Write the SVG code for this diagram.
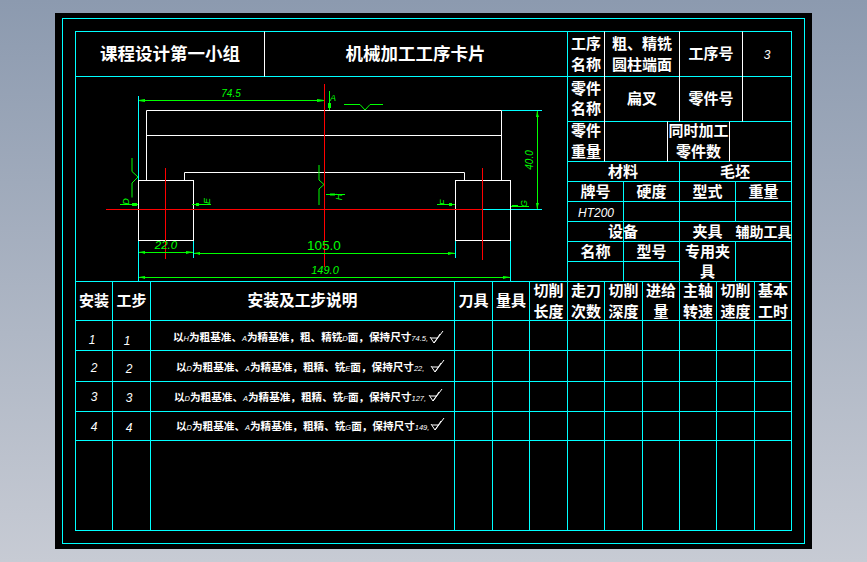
<svg xmlns="http://www.w3.org/2000/svg" width="867" height="562" viewBox="0 0 867 562">
<style>
.c{stroke:#0ff;stroke-width:1;fill:none}
.w{stroke:#fff;stroke-width:1;fill:none}
.g{stroke:#0f0;stroke-width:1;fill:none}
.r{stroke:#f00;stroke-width:1;fill:none}
.f{fill:#0f0;stroke:none}
text{font-family:"Noto Sans CJK SC","Liberation Sans",sans-serif;fill:#fff;text-anchor:middle;font-weight:700}
.t1{font-size:17.5px}
.t2{font-size:15px}
.t3{font-size:10.6px}
.i{font-family:"Liberation Sans",sans-serif;font-style:italic;font-weight:400;font-size:12px}
.s{font-family:"Liberation Sans",sans-serif;font-style:italic;font-weight:400;font-size:7.5px}
.gt{font-family:"Liberation Sans",sans-serif;font-style:italic;font-weight:400;fill:#0f0;font-size:10px}
.l{text-anchor:start}
</style>
<defs>
<linearGradient id="bg" x1="0" y1="0" x2="0" y2="1"><stop offset="0" stop-color="#8c9aaf"/><stop offset="1" stop-color="#c7cbd4"/></linearGradient>
<path id="rough" d="M0 6L4 12 13 0M1 7H7M4 12L10 3" class="w"/>
</defs>
<rect width="867" height="562" fill="url(#bg)"/>
<rect x="55" y="13" width="757" height="536" fill="#000"/>
<g id="frame">
<rect x="62.500" y="18.500" width="742" height="525" class="c"/>
<rect x="75.500" y="31.500" width="716" height="499" class="c"/>
<path class="c" d="M75.500 76.500H791.500M567.500 121.500H791.500M567.500 161.500H791.500M567.500 181.500H791.500M567.500 201.500H791.500M567.500 221.500H791.500M567.500 241.500H791.500M567.500 261.500H679.500M75.500 281.500H791.500M75.500 320.500H791.500M75.500 350.500H791.500M75.500 381.500H791.500M75.500 411.500H791.500M75.500 440.500H791.500"/>
<path class="c" d="M567.500 31.500V281.500M623.500 181.500V281.500M679.500 161.500V281.500M735.500 181.500V221.500M735.500 241.500V281.500"/>
<path class="c" d="M112.500 281.500V530.500M150.500 281.500V530.500M454.500 281.500V530.500M492.500 281.500V530.500M529.500 281.500V530.500M567.500 281.500V530.500M604.500 281.500V530.500M642.500 281.500V530.500M679.500 281.500V530.500M716.500 281.500V530.500M754.500 281.500V530.500"/>
<path class="w" d="M264.500 31.500V76.500M604.500 31.500V161.500M679.500 31.500V121.500M742.500 31.500V121.500M667.500 121.500V161.500M729.500 121.500V161.500"/>
</g>
<g id="part-drawing">
<path class="c" d="M138.500 96V281M193.500 240V258M455.500 240V258M510.500 240V281M324.500 96V110M501.500 110.500H542M483 209.500H542"/>
<path class="w" d="M146.500 110.500H501.500V180.500M146.500 110.500V180.500M146.500 135.500H501.500M184.500 180.500V172.500H464.500V180.500"/>
<rect class="w" x="138.500" y="180.500" width="55" height="60"/>
<rect class="w" x="455.500" y="180.500" width="55" height="60"/>
<path class="r" d="M106 209.500H483M324.500 84V267M165.500 168V259M482.500 168V260"/>
<g id="dimensions">
<path class="g" d="M139 100.500H324M139 252.500H193M194 253.500H455M139 277.500H510M537.500 111V209"/>
<path class="f" d="M139 100L145 99V102L139 101ZM324 100L317 99V102L324 101ZM139 252L145 251V254ZM193 252L186 251V254ZM194 253L200 252V255ZM455 253L448 252V255ZM139 277L145 276V279ZM510 277L503 276V279ZM537 111L536 117H539ZM537 209L536 203H539Z"/>
<path class="g" d="M329.500 91V110"/>
<path class="f" d="M328 103H331V108H328Z"/>
<path class="g" d="M344 104.500H360L365 110 370 104.500H383M132 158V171.500L138 177 132 183V197.500M319 165V180L324 184.500 319 189V205M120 204.500H138M192 204.500H211M437 204.500H455M511 206.500H529M326 194.500H345"/>
<path class="f" d="M132 203H137V206H132ZM196 203H199V206H196ZM449 203H452V206H449ZM512 205H518V207H512ZM330 193.500H335V195.500H330Z"/>
<text class="gt" x="231" y="97">74.5</text>
<text class="gt" x="333" y="101" style="font-size:9px">A</text>
<text class="gt" x="166" y="249" style="font-size:11.500px">22.0</text>
<text x="324" y="250" style="fill:#0f0;font-family:'Liberation Sans',sans-serif;font-weight:400;font-size:13.500px">105.0</text>
<text class="gt" x="325" y="274" style="font-size:11px">149.0</text>
<text class="gt" transform="translate(533 160) rotate(-90)" style="font-size:10px">40.0</text>
<text class="gt" transform="translate(129 201.500) rotate(-90)" style="font-size:9px">D</text>
<text class="gt" transform="translate(210 201) rotate(-90)" style="font-size:9px">E</text>
<text class="gt" transform="translate(446 202.500) rotate(-90)" style="font-size:9px">F</text>
<text class="gt" transform="translate(527 203.500) rotate(-90)" style="font-size:9px">G</text>
<text class="gt" transform="translate(342 197) rotate(-90)" style="font-size:9px">H</text>
</g>
</g>
<g id="header-text">
<text class="t1" x="170" y="60">课程设计第一小组</text>
<text class="t1" x="415.500" y="60">机械加工工序卡片</text>
<text class="t2" x="586" y="49">工序</text><text class="t2" x="586" y="70">名称</text>
<text class="t2" x="642" y="49">粗、精铣</text><text class="t2" x="642" y="70">圆柱端面</text>
<text class="t2" x="711" y="59">工序号</text>
<text class="i" x="767" y="59">3</text>
<text class="t2" x="586" y="94">零件</text><text class="t2" x="586" y="114">名称</text>
<text class="t2" x="642" y="104">扁叉</text>
<text class="t2" x="711" y="104">零件号</text>
<text class="t2" x="586" y="136">零件</text><text class="t2" x="586" y="157">重量</text>
<text class="t2" x="698.500" y="136">同时加工</text><text class="t2" x="698.500" y="157">零件数</text>
<text class="t2" x="623" y="177">材料</text><text class="t2" x="735" y="177">毛坯</text>
<text class="t2" x="595.500" y="197">牌号</text><text class="t2" x="651.500" y="197">硬度</text><text class="t2" x="707.500" y="197">型式</text><text class="t2" x="763.500" y="197">重量</text>
<text class="i" x="596" y="217">HT200</text>
<text class="t2" x="623" y="237">设备</text><text class="t2" x="707.500" y="237">夹具</text><text class="t2" x="763.500" y="237" style="font-size:14px">辅助工具</text>
<text class="t2" x="595.500" y="257">名称</text><text class="t2" x="651.500" y="257">型号</text>
<text class="t2" x="707.500" y="257">专用夹</text><text class="t2" x="707.500" y="277">具</text>
</g>
<g id="table-header">
<text class="t2" x="94" y="306">安装</text><text class="t2" x="131.500" y="306">工步</text>
<text class="t2" x="302.500" y="306" style="font-size:15.700px">安装及工步说明</text>
<text class="t2" x="473.500" y="306">刀具</text><text class="t2" x="511" y="306">量具</text>
<text class="t2" x="548.500" y="296">切削</text><text class="t2" x="548.500" y="317">长度</text>
<text class="t2" x="586" y="296">走刀</text><text class="t2" x="586" y="317">次数</text>
<text class="t2" x="623.500" y="296">切削</text><text class="t2" x="623.500" y="317">深度</text>
<text class="t2" x="661" y="296">进给</text><text class="t2" x="661" y="317">量</text>
<text class="t2" x="698" y="296">主轴</text><text class="t2" x="698" y="317">转速</text>
<text class="t2" x="735.500" y="296">切削</text><text class="t2" x="735.500" y="317">速度</text>
<text class="t2" x="773" y="296">基本</text><text class="t2" x="773" y="317">工时</text>
</g>
<g id="table-rows">
<text class="i" x="92" y="344">1</text><text class="i" x="127" y="345">1</text>
<text class="i" x="94" y="372">2</text><text class="i" x="129" y="373">2</text>
<text class="i" x="94" y="401">3</text><text class="i" x="129" y="402">3</text>
<text class="i" x="94" y="431">4</text><text class="i" x="129" y="432">4</text>
<text class="t3 l" x="173" y="341">以<tspan class="s">H</tspan>为粗基准、<tspan class="s">A</tspan>为精基准&#65292;粗、精铣<tspan class="s">D</tspan>面&#65292;保持尺寸<tspan class="s">74.5,</tspan></text>
<text class="t3 l" x="176" y="371">以<tspan class="s">D</tspan>为粗基准、<tspan class="s">A</tspan>为精基准&#65292;粗精、铣<tspan class="s">E</tspan>面&#65292;保持尺寸<tspan class="s">22,</tspan></text>
<text class="t3 l" x="174" y="401">以<tspan class="s">D</tspan>为粗基准、<tspan class="s">A</tspan>为精基准&#65292;粗精、铣<tspan class="s">F</tspan>面&#65292;保持尺寸<tspan class="s">127,</tspan></text>
<text class="t3 l" x="176" y="430">以<tspan class="s">D</tspan>为粗基准、<tspan class="s">A</tspan>为精基准&#65292;粗精、铣<tspan class="s">G</tspan>面&#65292;保持尺寸<tspan class="s">149,</tspan></text>
<use href="#rough" x="430" y="331"/><use href="#rough" x="431" y="360"/><use href="#rough" x="429" y="389"/><use href="#rough" x="431" y="418"/>
</g>
</svg>
